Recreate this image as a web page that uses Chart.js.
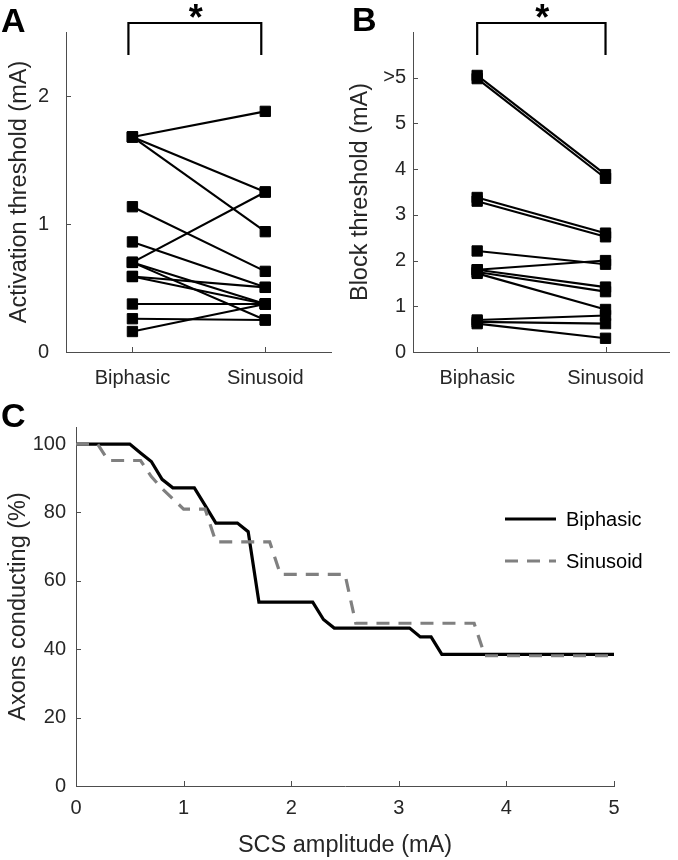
<!DOCTYPE html>
<html><head><meta charset="utf-8">
<script src="https://cdn.jsdelivr.net/npm/chart.js@4.4.1/dist/chart.umd.min.js"></script>
<style>
html,body{margin:0;padding:0;background:#fff;}
#wrap{position:relative;width:678px;height:860px;overflow:hidden;}
canvas{position:absolute;}
</style></head><body>
<div id="wrap">
<canvas id="cA" width="340" height="390" style="left:0;top:0"></canvas>
<canvas id="cB" width="338" height="390" style="left:340px;top:0"></canvas>
<canvas id="cC" width="678" height="470" style="left:0;top:390px"></canvas>
</div>
<script>
// ---------- data ----------
const categories = ['Biphasic', 'Sinusoid'];

// Panel A: activation threshold pairs (mA)
const activationBiphasic = [1.68, 1.68, 1.68, 1.135, 0.86, 0.70, 0.70, 0.70, 0.59, 0.59, 0.375, 0.26, 0.16];
const activationSinusoid = [1.88, 1.25, 0.94, 0.63, 0.505, 1.25, 0.375, 0.25, 0.505, 0.375, 0.375, 0.25, 0.375];
const activationTicks = [0, 1, 2];

// Panel B: block threshold pairs (mA); 6 stands for ">5"
const blockBiphasic = [6.05, 5.98, 3.38, 3.30, 2.21, 1.80, 1.80, 1.75, 1.72, 0.70, 0.66, 0.62];
const blockSinusoid = [3.88, 3.80, 2.60, 2.52, 1.92, 2.00, 1.42, 1.32, 0.93, 0.80, 0.62, 0.30];
const blockTicks = [0, 1, 2, 3, 4, 5, 6];
const blockTickLabels = ['0', '1', '2', '3', '4', '5', '>5'];

// Panel C: axons conducting (%) vs SCS amplitude (mA)
const amplitude = [0.0,0.1,0.2,0.3,0.4,0.5,0.6,0.7,0.8,0.9,1.0,1.1,1.2,1.3,1.4,1.5,1.6,1.7,1.8,1.9,2.0,2.1,2.2,2.3,2.4,2.5,2.6,2.7,2.8,2.9,3.0,3.1,3.2,3.3,3.4,3.5,3.6,3.7,3.8,3.9,4.0,4.1,4.2,4.3,4.4,4.5,4.6,4.7,4.8,4.9,5.0];
const biphasicConducting = [100,100,100,100,100,100,97.4,94.9,89.7,87.2,87.2,87.2,82.1,76.9,76.9,76.9,74.4,53.8,53.8,53.8,53.8,53.8,53.8,48.7,46.2,46.2,46.2,46.2,46.2,46.2,46.2,46.2,43.6,43.6,38.5,38.5,38.5,38.5,38.5,38.5,38.5,38.5,38.5,38.5,38.5,38.5,38.5,38.5,38.5,38.5,38.5];
const sinusoidConducting = [100,100,100,95.2,95.2,95.2,95.2,90.5,87,84,81,81,81,71.4,71.4,71.4,71.4,71.4,71.4,61.9,61.9,61.9,61.9,61.9,61.9,61.9,47.6,47.6,47.6,47.6,47.6,47.6,47.6,47.6,47.6,47.6,47.6,47.6,38.1,38.1,38.1,38.1,38.1,38.1,38.1,38.1,38.1,38.1,38.1,38.1,38.1];
const amplitudeTicks = [0, 1, 2, 3, 4, 5];
const conductingTicks = [0, 20, 40, 60, 80, 100];
const seriesNames = ['Biphasic', 'Sinusoid'];

// ---------- style ----------
const FONT = "'Liberation Sans', Arial, Helvetica, sans-serif";
const TXT = '#262626';
const AXIS = '#4d4d4d';
const GRAY = '#808080';

const decor = {
  id: 'decor',
  beforeDatasetsDraw(chart, args, o) {
    const ctx = chart.ctx, a = chart.chartArea, xs = chart.scales.x, ys = chart.scales.y;
    ctx.save();
    ctx.strokeStyle = AXIS; ctx.lineWidth = 1;
    xs.ticks.forEach(t => {
      const px = Math.round(xs.getPixelForValue(t.value)) + 0.5;
      ctx.beginPath(); ctx.moveTo(px, a.bottom); ctx.lineTo(px, a.bottom - o.tick); ctx.stroke();
    });
    ys.ticks.forEach(t => {
      const py = Math.round(ys.getPixelForValue(t.value)) + 0.5;
      ctx.beginPath(); ctx.moveTo(a.left, py); ctx.lineTo(a.left + o.tick, py); ctx.stroke();
    });
    ctx.restore();
  },
  afterDraw(chart, args, o) {
    const ctx = chart.ctx, a = chart.chartArea, xs = chart.scales.x;
    ctx.save();
    if (o.bracket) {
      const b = o.bracket;
      const x1 = xs.getPixelForValue(1) + b.dx, x2 = xs.getPixelForValue(2) + b.dx;
      const yt = a.top - 9, yb = a.top + 23;
      ctx.strokeStyle = '#000'; ctx.lineWidth = 2.2;
      ctx.beginPath(); ctx.moveTo(x1, yb); ctx.lineTo(x1, yt); ctx.lineTo(x2, yt); ctx.lineTo(x2, yb); ctx.stroke();
      ctx.fillStyle = '#000'; ctx.font = 'bold 36px ' + FONT; ctx.textAlign = 'center'; ctx.textBaseline = 'alphabetic';
      ctx.fillText('*', (x1 + x2) / 2 + 1, 30);
    }
    if (o.legend) {
      ctx.font = '20px ' + FONT; ctx.textAlign = 'left'; ctx.textBaseline = 'middle';
      o.legend.forEach((it, i) => {
        const y = o.legendY + i * 42;
        ctx.strokeStyle = it.color; ctx.lineWidth = 3.2; ctx.setLineDash(it.dash);
        ctx.beginPath(); ctx.moveTo(o.legendX, y); ctx.lineTo(o.legendX + 51, y); ctx.stroke();
        ctx.setLineDash([]);
        ctx.fillStyle = '#000'; ctx.fillText(it.label, o.legendX + 61, y + 1);
      });
    }
    if (o.letter) {
      ctx.fillStyle = '#000'; ctx.font = 'bold 34px ' + FONT; ctx.textAlign = 'left'; ctx.textBaseline = 'alphabetic';
      ctx.fillText(o.letter.text, o.letter.x, o.letter.y);
    }
    ctx.restore();
  }
};

function fixedTicks(values) { return ax => { ax.ticks = values.map(v => ({ value: v })); }; }

function pairDatasets(bi, si) {
  return bi.map((b, i) => ({
    data: [{ x: 1, y: b }, { x: 2, y: si[i] }],
    borderColor: '#000', backgroundColor: '#000', borderWidth: 2.1,
    pointStyle: 'rect', pointRadius: 7.3, pointBorderWidth: 1, pointBorderColor: '#000',
    pointBackgroundColor: '#000', tension: 0, clip: false
  }));
}

function pairChart(id, bi, si, ymax, yticks, ylabels, title, yWidth, yPad, titlePad, letter, dx) {
  return new Chart(document.getElementById(id), {
    type: 'line',
    data: { datasets: pairDatasets(bi, si) },
    options: {
      responsive: false, animation: false, events: [],
      layout: { padding: { top: 32, right: 3, left: 0, bottom: 0 } },
      plugins: {
        legend: { display: false }, tooltip: { enabled: false },
        decor: { tick: 5, bracket: { dx: dx }, letter: letter }
      },
      scales: {
        x: {
          type: 'linear', min: 0.5, max: 2.5,
          afterBuildTicks: fixedTicks([1, 2]),
          afterFit: s => { s.height = 38; },
          ticks: { callback: v => categories[v - 1], font: { family: FONT, size: 20 }, color: TXT, padding: 14, maxRotation: 0, autoSkip: false },
          grid: { display: true, drawOnChartArea: false, drawTicks: false },
          border: { display: true, color: AXIS, width: 1 }
        },
        y: {
          type: 'linear', min: 0, max: ymax,
          afterBuildTicks: fixedTicks(yticks),
          afterFit: s => { s.width = yWidth; },
          ticks: { callback: (v) => ylabels[yticks.indexOf(v)], font: { family: FONT, size: 20 }, color: TXT, padding: yPad, autoSkip: false },
          title: { display: true, text: title, font: { family: FONT, size: 23.5 }, color: TXT, padding: { top: titlePad, bottom: 0 } },
          grid: { display: true, drawOnChartArea: false, drawTicks: false },
          border: { display: true, color: AXIS, width: 1 }
        }
      }
    },
    plugins: [decor]
  });
}

pairChart('cA', activationBiphasic, activationSinusoid, 2.5, activationTicks, activationTicks.map(String),
  'Activation threshold (mA)', 66, 17, 5, { text: 'A', x: 1, y: 32 }, -4);
pairChart('cB', blockBiphasic, blockSinusoid, 7, blockTicks, blockTickLabels,
  'Block threshold (mA)', 73, 7, 6, { text: 'B', x: 12, y: 31 }, 0);

new Chart(document.getElementById('cC'), {
  type: 'line',
  data: {
    datasets: [
      { label: seriesNames[0], data: amplitude.map((x, i) => ({ x: x, y: biphasicConducting[i] })),
        borderColor: '#000', borderWidth: 3.2, pointRadius: 0, tension: 0, clip: false, order: 1 },
      { label: seriesNames[1], data: amplitude.map((x, i) => ({ x: x, y: sinusoidConducting[i] })),
        borderColor: GRAY, borderWidth: 3.2, borderDash: [13, 9], pointRadius: 0, tension: 0, clip: false, order: 0 }
    ]
  },
  options: {
    responsive: false, animation: false, events: [],
    layout: { padding: { top: 37, right: 64, left: 0, bottom: 0 } },
    plugins: {
      legend: { display: false }, tooltip: { enabled: false },
      decor: {
        tick: 5, letter: { text: 'C', x: 1, y: 37 },
        legendX: 505, legendY: 129,
        legend: [
          { label: seriesNames[0], color: '#000', dash: [] },
          { label: seriesNames[1], color: GRAY, dash: [13, 9] }
        ]
      }
    },
    scales: {
      x: {
        type: 'linear', min: 0, max: 5,
        afterBuildTicks: fixedTicks(amplitudeTicks),
        afterFit: s => { s.height = 74; },
        ticks: { font: { family: FONT, size: 20 }, color: TXT, padding: 10, maxRotation: 0, autoSkip: false },
        title: { display: true, text: 'SCS amplitude (mA)', font: { family: FONT, size: 23.5 }, color: TXT, padding: { top: 0, bottom: 0 } },
        grid: { display: true, drawOnChartArea: false, drawTicks: false },
        border: { display: true, color: AXIS, width: 1 }
      },
      y: {
        type: 'linear', min: 0, max: 105,
        afterBuildTicks: fixedTicks(conductingTicks),
        afterFit: s => { s.width = 76; },
        ticks: { font: { family: FONT, size: 20 }, color: TXT, padding: 10, autoSkip: false },
        title: { display: true, text: 'Axons conducting (%)', font: { family: FONT, size: 23.5 }, color: TXT, padding: { top: 4, bottom: 0 } },
        grid: { display: true, drawOnChartArea: false, drawTicks: false },
        border: { display: true, color: AXIS, width: 1 }
      }
    }
  },
  plugins: [decor]
});
</script>
</body></html>
